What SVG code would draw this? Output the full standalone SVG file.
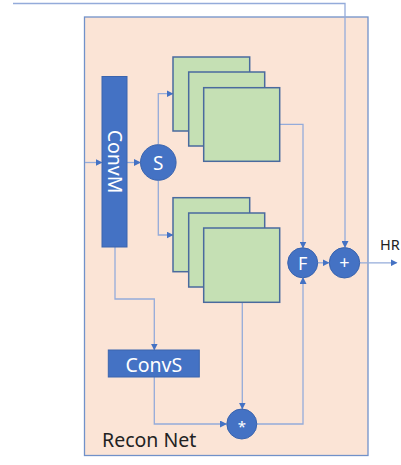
<svg xmlns="http://www.w3.org/2000/svg" width="401" height="465" viewBox="0 0 401 465">
<defs>
<marker id="ah" markerWidth="7" markerHeight="7" refX="6" refY="3.5" orient="auto" markerUnits="userSpaceOnUse">
<path d="M0,0 L7,3.5 L0,7 Z" fill="#4472C4"/>
</marker>
</defs>
<style>
.blk{fill:#4472C4;stroke:#3A64AE;stroke-width:1}
.grn{fill:#C5E0B4;stroke:#4A6A9E;stroke-width:1.5}
.ln{fill:none;stroke:#94ABDA;stroke-width:1.3}
.wt{fill:#FFFFFF;font-family:"Noto Sans","DejaVu Sans",sans-serif}
.dk{fill:#222222;font-family:"Noto Sans","DejaVu Sans",sans-serif}
</style>
<rect x="0" y="0" width="401" height="465" fill="#FFFFFF"/>
<g id="recon-net">
<rect x="84.5" y="17" width="283.5" height="438.5" fill="#FBE4D6" stroke="#7191C9" stroke-width="1.3"/>
<text class="dk" x="102" y="446.5" font-size="19.5">Recon Net</text>
</g>
<g id="connectors">
<path class="ln" d="M13,3.5 H345 V247" marker-end="url(#ah)"/>
<path class="ln" d="M85,162.5 H101.5" marker-end="url(#ah)"/>
<path class="ln" d="M127,162.5 H140" marker-end="url(#ah)"/>
<path class="ln" d="M158.3,144.5 V93.7 H172.5" marker-end="url(#ah)"/>
<path class="ln" d="M158.3,180.5 V235 H172.5" marker-end="url(#ah)"/>
<path class="ln" d="M279.7,124.3 H303 V247.5" marker-end="url(#ah)"/>
<path class="ln" d="M318,262.8 H328.5" marker-end="url(#ah)"/>
<path class="ln" d="M360,262.8 H396.5" marker-end="url(#ah)"/>
<path class="ln" d="M115,247 V299 H154.3 V349.5" marker-end="url(#ah)"/>
<path class="ln" d="M242.3,302.3 V408.5" marker-end="url(#ah)"/>
<path class="ln" d="M154.3,377 V424 H226" marker-end="url(#ah)"/>
<path class="ln" d="M257,424 H303 V278" marker-end="url(#ah)"/>
</g>
<g id="convm">
<rect class="blk" x="102" y="76.5" width="25" height="170.5"/>
<text class="wt" x="0" y="0" font-size="19.5" text-anchor="middle" transform="translate(107.8,161.5) rotate(90)">ConvM</text>
</g>
<g id="s-node">
<circle class="blk" cx="158.3" cy="162.5" r="17.8"/>
<text class="wt" x="158.3" y="169.5" font-size="19" text-anchor="middle">S</text>
</g>
<g id="top-stack">
<rect class="grn" x="173" y="57" width="76.7" height="74"/>
<rect class="grn" x="188.7" y="72" width="76" height="74"/>
<rect class="grn" x="203.7" y="87.7" width="76" height="73.6"/>
</g>
<g id="bottom-stack">
<rect class="grn" x="173" y="197.7" width="76.7" height="74"/>
<rect class="grn" x="188.7" y="213" width="76" height="74"/>
<rect class="grn" x="203.7" y="228" width="76" height="74.3"/>
</g>
<g id="f-node">
<circle class="blk" cx="302.7" cy="262.8" r="15"/>
<text class="wt" x="302.7" y="269.5" font-size="18" text-anchor="middle">F</text>
</g>
<g id="plus-node">
<circle class="blk" cx="344.5" cy="262.8" r="15.2"/>
<text class="wt" x="344.5" y="269" font-size="18" text-anchor="middle">+</text>
</g>
<g id="hr-label">
<text class="dk" x="380" y="249.5" font-size="14.5">HR</text>
</g>
<g id="convs">
<rect class="blk" x="108.3" y="350" width="91" height="27"/>
<text class="wt" x="153.8" y="371.5" font-size="19.5" text-anchor="middle">ConvS</text>
</g>
<g id="mult-node">
<circle class="blk" cx="241.8" cy="424" r="15"/>
<text class="wt" x="241.8" y="432" font-size="15" text-anchor="middle">*</text>
</g>
</svg>
